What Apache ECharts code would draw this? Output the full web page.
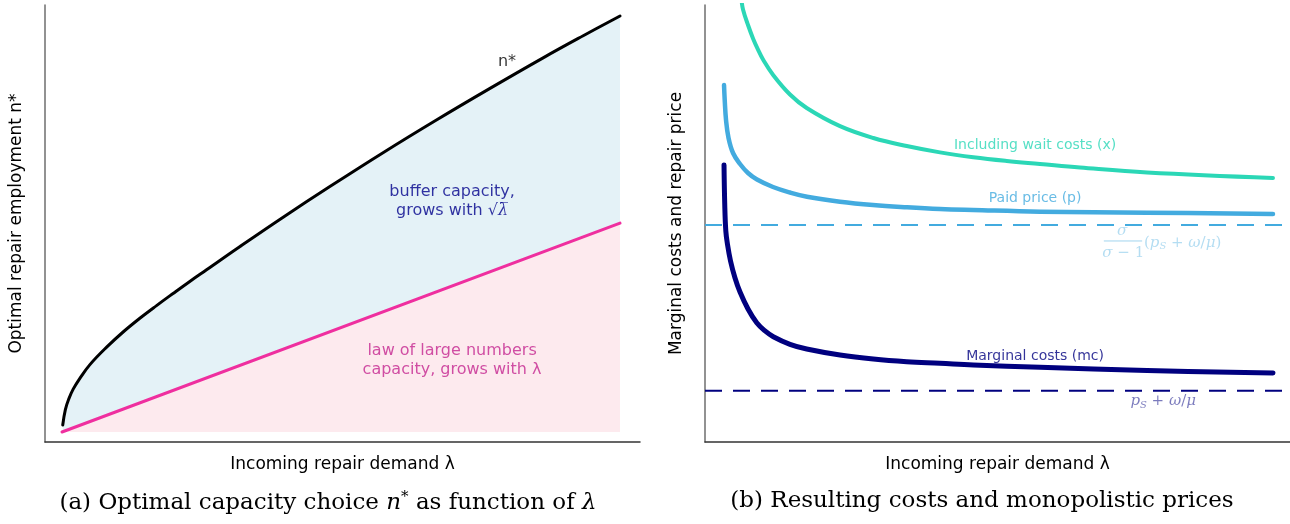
<!DOCTYPE html>
<html>
<head>
<meta charset="utf-8">
<script src="https://cdn.jsdelivr.net/npm/echarts@6/dist/echarts.min.js"></script>
<style>
  html, body { margin: 0; padding: 0; background: #fff; }
  #chart { width: 1290px; height: 524px; }
</style>
</head>
<body>
<div id="chart"></div>
<script>
// ---------- Data (arbitrary units) ----------
// Panel (a): optimal capacity n* vs demand lambda
const lambdaN = [0.13, 0.6, 1.2, 2.0, 3.2, 5.0, 8.0, 11.0, 14.0, 17.0, 19.9, 22.9, 25.9, 31.9, 39.7, 48.0, 57.6, 67.1, 76.7, 86.3, 93.4, 100];
const nStar   = [1.7, 5.4, 7.9, 10.3, 12.9, 16.2, 20.4, 24.1, 27.4, 30.45, 33.3, 36.2, 39.0, 44.6, 51.7, 59.0, 67.2, 75.0, 82.6, 90.0, 95.25, 100];
const lambdaLLN = [0, 100];
const nLLN      = [0, 50.2];

// Panel (b): costs and prices vs demand lambda
const lambdaX  = [4.156, 4.426, 5.328, 6.230, 7.132, 8.087, 9.891, 12.90, 15.91, 21.92, 27.93, 33.95, 39.95, 45.96, 51.98, 57.99, 65.2, 77.28, 100];
const waitCost = [101.14, 98.99, 95.42, 92.36, 89.79, 87.41, 83.94, 79.52, 76.43, 72.27, 69.57, 67.73, 66.27, 65.15, 64.30, 63.62, 62.81, 61.67, 60.41];
const lambdaP   = [1.0, 1.126, 1.361, 1.812, 2.623, 3.885, 5.328, 6.951, 9.837, 12.90, 15.97, 21.92, 27.87, 34.0, 39.95, 45.9, 57.99, 77.28, 100];
const paidPrice = [81.69, 78.26, 73.68, 69.57, 66.13, 63.62, 61.56, 60.07, 58.35, 57.09, 56.13, 54.99, 54.23, 53.71, 53.32, 53.09, 52.70, 52.47, 52.17];
const lambdaMC = [1.0, 1.126, 1.325, 1.631, 2.172, 2.984, 3.885, 5.328, 6.897, 8.394, 9.891, 12.90, 15.91, 21.92, 27.93, 33.95, 39.95, 45.96, 57.99, 77.28, 100];
const margCost = [63.39, 54.58, 48.28, 45.19, 41.42, 37.53, 34.32, 30.43, 27.28, 25.42, 24.10, 22.36, 21.28, 19.91, 18.99, 18.38, 18.01, 17.62, 17.12, 16.36, 15.79];
const priceFloor = 49.66;   // sigma/(sigma-1)(p_S + omega/mu)
const costFloor  = 11.74;   // p_S + omega/mu

// ---------- Layout / styles ----------
const SANS = 'DejaVu Sans';
const SERIF = 'DejaVu Serif';
const CAPTION = 'DejaVu Serif';
const C = {
  black: '#000000', pink: '#ef2f9f', blueFill: '#e4f2f7', pinkFill: '#fdeaee',
  navyText: '#00008b', magentaText: '#c42590',
  teal: '#2bd7b6', light: '#43abdf', navy: '#00007f',
  lightFaded: 'rgba(67,171,223,0.5)', navyFaded: 'rgba(0,0,128,0.65)'
};

const zip = (xs, ys) => xs.map((x, i) => [x, ys[i]]);

const axisLineY = { show: true, onZero: false, lineStyle: { color: '#6e6e6e', width: 1.5 } };
const axisLineX = { show: true, onZero: false, lineStyle: { color: '#333333', width: 1.5 } };
const noTicks = { axisTick: { show: false }, axisLabel: { show: false }, splitLine: { show: false } };
const nameStyle = { fontFamily: SANS, fontSize: 17, color: '#000' };

function textPoint(xIdx, pos, text, style) {
  return {
    type: 'scatter', xAxisIndex: xIdx, yAxisIndex: xIdx, symbolSize: 0, silent: true, z: 10,
    data: [pos],
    label: Object.assign({ show: true, position: 'inside', formatter: text }, style)
  };
}
function curve(idx, xs, ys, color, width, z) {
  return {
    type: 'line', xAxisIndex: idx, yAxisIndex: idx, data: zip(xs, ys),
    smooth: 0.4, symbol: 'none', clip: true, z: z,
    lineStyle: { color: color, width: width, cap: 'round', join: 'round' }
  };
}

const option = {
  animation: false,
  backgroundColor: '#ffffff',
  title: [
    {
      text: '(a) Optimal capacity choice {i|n}{sup|*} as function of {i|λ}',
      left: 323, top: 485, textAlign: 'center',
      textStyle: {
        fontFamily: CAPTION, fontSize: 23, fontWeight: 'normal', color: '#000',
        rich: {
          i: { fontFamily: CAPTION, fontStyle: 'italic', fontSize: 23, color: '#000' },
          sup: { fontFamily: CAPTION, fontSize: 15, color: '#000', padding: [0, 0, 11, 0] }
        }
      }
    },
    {
      text: '(b) Resulting costs and monopolistic prices',
      left: 977, top: 485, textAlign: 'center',
      textStyle: { fontFamily: CAPTION, fontSize: 23, fontWeight: 'normal', color: '#000' }
    }
  ],
  grid: [
    { left: 45, top: 5, width: 595, height: 437 },
    { left: 705, top: 5, width: 585, height: 437 }
  ],
  xAxis: [
    Object.assign({ type: 'value', gridIndex: 0, min: -3.05, max: 103.58, axisLine: axisLineX,
      name: 'Incoming repair demand λ', nameLocation: 'middle', nameGap: 14, nameTextStyle: nameStyle }, noTicks),
    Object.assign({ type: 'value', gridIndex: 1, min: -2.43, max: 103.07, axisLine: axisLineX,
      name: 'Incoming repair demand λ', nameLocation: 'middle', nameGap: 14, nameTextStyle: nameStyle }, noTicks)
  ],
  yAxis: [
    Object.assign({ type: 'value', gridIndex: 0, min: -2.4, max: 102.64, axisLine: axisLineY,
      name: 'Optimal repair employment n*', nameLocation: 'middle', nameGap: 20, nameTextStyle: nameStyle }, noTicks),
    Object.assign({ type: 'value', gridIndex: 1, min: 0, max: 100, axisLine: axisLineY,
      name: 'Marginal costs and repair price', nameLocation: 'middle', nameGap: 20, nameTextStyle: nameStyle }, noTicks)
  ],
  series: [
    // ----- Panel (a) -----
    Object.assign(curve(0, lambdaN, nStar, C.black, 3, 2), {
      areaStyle: { color: C.blueFill, opacity: 1 }
    }),
    {
      type: 'line', xAxisIndex: 0, yAxisIndex: 0, data: zip(lambdaLLN, nLLN),
      symbol: 'none', z: 3,
      lineStyle: { color: C.pink, width: 3, cap: 'round' },
      areaStyle: { color: C.pinkFill, opacity: 1 }
    },
    textPoint(0, [79.75, 88.9], 'n*', { fontFamily: SANS, fontSize: 16, color: '#000' }),
    textPoint(0, [69.9, 55.5], 'buffer capacity,\ngrows with {m|√λ̅}', {
      fontFamily: SANS, fontSize: 16, color: C.navyText, lineHeight: 19, align: 'center',
      rich: { m: { fontFamily: SERIF, fontStyle: 'italic', fontSize: 16, color: C.navyText, lineHeight: 19 } }
    }),
    textPoint(0, [69.9, 17.3], 'law of large numbers\ncapacity, grows with λ', {
      fontFamily: SANS, fontSize: 16, color: C.magentaText, lineHeight: 19, align: 'center'
    }),
    // ----- Panel (b) -----
    curve(1, lambdaX, waitCost, C.teal, 4, 3),
    curve(1, lambdaP, paidPrice, C.light, 4.5, 3),
    curve(1, lambdaMC, margCost, C.navy, 5, 3),
    {
      type: 'line', xAxisIndex: 1, yAxisIndex: 1, data: [[-2.43, priceFloor], [103.07, priceFloor]],
      symbol: 'none', z: 2,
      lineStyle: { color: C.light, width: 2, type: [17, 11] }
    },
    {
      type: 'line', xAxisIndex: 1, yAxisIndex: 1, data: [[-2.43, costFloor], [103.07, costFloor]],
      symbol: 'none', z: 2,
      lineStyle: { color: C.navy, width: 2, type: [17, 11] }
    },
    textPoint(1, [57.1, 67.8], 'Including wait costs (x)', { fontFamily: SANS, fontSize: 14, color: C.teal }),
    textPoint(1, [57.1, 55.8], 'Paid price (p)', { fontFamily: SANS, fontSize: 14, color: C.light }),
    textPoint(1, [57.1, 19.7], 'Marginal costs (mc)', { fontFamily: SANS, fontSize: 14, color: C.navy }),
    // math annotations
    textPoint(1, [72.8, 48.3], '{i|σ}', {
      rich: { i: { fontFamily: SERIF, fontStyle: 'italic', fontSize: 15, color: C.lightFaded } }
    }),
    {
      type: 'line', xAxisIndex: 1, yAxisIndex: 1, data: [[69.5, 46.0], [76.4, 46.0]],
      symbol: 'none', silent: true, z: 2, lineStyle: { color: C.lightFaded, width: 1 }
    },
    textPoint(1, [73.0, 43.3], '{i|σ} − 1', {
      fontFamily: SERIF, fontSize: 15, color: C.lightFaded,
      rich: { i: { fontFamily: SERIF, fontStyle: 'italic', fontSize: 15, color: C.lightFaded } }
    }),
    textPoint(1, [83.7, 45.6], '({i|p}{s|S} + {i|ω}/{i|μ})', {
      fontFamily: SERIF, fontSize: 15, color: C.lightFaded,
      rich: {
        i: { fontFamily: SERIF, fontStyle: 'italic', fontSize: 15, color: C.lightFaded },
        s: { fontFamily: SERIF, fontStyle: 'italic', fontSize: 10, color: C.lightFaded, padding: [8, 0, 0, 0] }
      }
    }),
    textPoint(1, [80.2, 9.4], '{i|p}{s|S} + {i|ω}/{i|μ}', {
      fontFamily: SERIF, fontSize: 15, color: C.navyFaded,
      rich: {
        i: { fontFamily: SERIF, fontStyle: 'italic', fontSize: 15, color: C.navyFaded },
        s: { fontFamily: SERIF, fontStyle: 'italic', fontSize: 10, color: C.navyFaded, padding: [8, 0, 0, 0] }
      }
    })
  ]
};

const chart = echarts.init(document.getElementById('chart'), null, { renderer: 'canvas' });
chart.setOption(option);
</script>
</body>
</html>
